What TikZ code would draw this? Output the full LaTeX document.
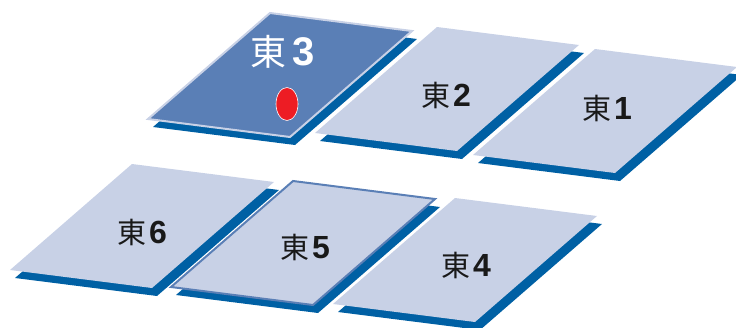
\documentclass[tikz,border=0pt]{standalone}
\usepackage{fontspec}
\usetikzlibrary{shapes.geometric}
\newfontfamily\cjk{Noto Sans CJK JP}
\newfontfamily\digit{Liberation Sans}
\definecolor{facecol}{HTML}{C8D1E6}
\definecolor{shadecol}{HTML}{0060A4}
\definecolor{midcol}{HTML}{5A7FB6}
\definecolor{dotred}{HTML}{ED1C24}
\newcommand\drawtile[3]{%
  \fill[shadecol] ({#1+5},{#2+8}) -- ++(142,18) -- ++(-122,106) -- ++(-142,-18) -- cycle;
  \path[#3] (#1,#2) -- ++(142,18) -- ++(-122,106) -- ++(-142,-18) -- cycle;}
\newcommand\lbl[2]{{\cjk\fontsize{29}{29}\selectfont 東}\kern3pt{\digit\bfseries\fontsize{32}{32}\selectfont #2}}
\tikzset{
  plainface/.style={fill=facecol},
  labeltext/.style={inner sep=0, text=black!90}
}
\begin{document}
\begin{tikzpicture}[x=1pt,y=-1pt]
\useasboundingbox (0,0) rectangle (736,327);
\clip (0,0) rectangle (736,327);
\drawtile{270}{13}{fill=midcol, draw=facecol, line width=2}
\drawtile{437}{27}{plainface}
\drawtile{595}{49}{plainface}
\drawtile{132}{164}{plainface}
\drawtile{293}{181}{fill=facecol, draw=midcol, line width=2}
\drawtile{455}{198}{plainface}
\node[inner sep=0, text=white] (t3) at (283,52) {{\cjk\fontsize{36}{36}\selectfont 東}\kern6pt{\digit\bfseries\fontsize{40}{40}\selectfont 3}};
\node[ellipse, fill=dotred, draw=white, line width=0.6, minimum width=22, minimum height=33, inner sep=0] (dot) at (287,104) {};
\node[labeltext] (t2) at (446,95) {\lbl{}{2}};
\node[labeltext] (t1) at (607,108) {\lbl{}{1}};
\node[labeltext] (t6) at (142,232) {\lbl{}{6}};
\node[labeltext] (t5) at (305,247) {\lbl{}{5}};
\node[labeltext] (t4) at (466,265) {\lbl{}{4}};
\end{tikzpicture}
\end{document}
